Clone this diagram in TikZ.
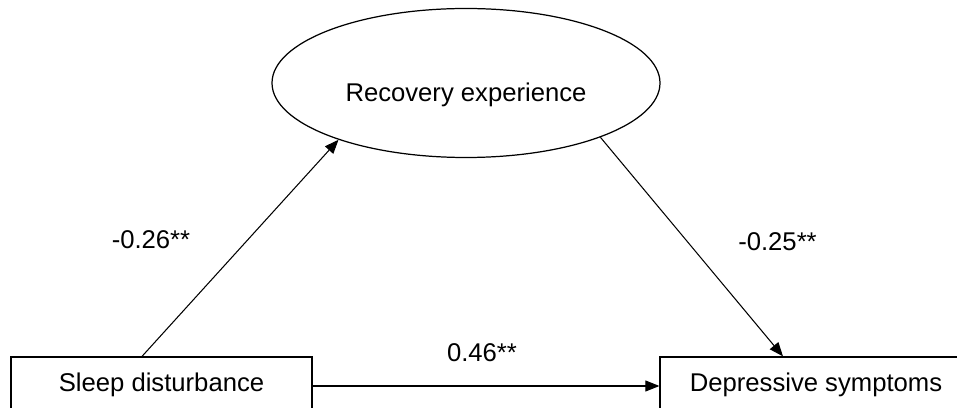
\documentclass[tikz,border=0pt]{standalone}
\usepackage{fontspec}
\setmainfont{Liberation Sans}
\usetikzlibrary{arrows.meta, shapes.geometric, positioning, calc}

\begin{document}
\begin{tikzpicture}[every node/.style={font=\fontsize{14.6pt}{17pt}\selectfont},
                    latent/.style={draw, ellipse, line width=0.7pt, minimum width=7.76cm,
                                   minimum height=2.98cm, inner sep=0pt},
                    box/.style={draw, line width=0.7pt, minimum height=1.1cm, inner sep=0pt},
                    path/.style={-{Triangle[length=0.28cm, width=0.22cm]}, line width=0.6pt},
                    coef/.style={anchor=base, inner sep=0pt}]
        \useasboundingbox (0,0) rectangle (19.14,8.14);
        \clip (0,0) rectangle (19.14,8.14);
        \node[latent, label={[inner sep=0pt, yshift=-0.24cm]center:Recovery experience}] (rec) at (9.32,6.48) {};
        \node[box, minimum width=6.02cm] (sleep) at (3.23,0.45) {Sleep disturbance};
        \node[box, minimum width=6.24cm] (dep)   at (16.32,0.45) {Depressive symptoms};

        \draw[path] ([xshift=-0.39cm]sleep.north) -- (rec.204);
        \draw[path] (rec.338) -- ([xshift=-0.66cm]dep.north);
        \draw[path] ([yshift=-0.03cm]sleep.east) -- ([yshift=-0.03cm]dep.west);

        \node[coef] (a) at (3.02,3.16) {-0.26**};
        \node[coef] (b) at (15.55,3.12) {-0.25**};
        \node[coef] (c) at (9.64,0.92) {0.46**};
      \end{tikzpicture}
\end{document}
